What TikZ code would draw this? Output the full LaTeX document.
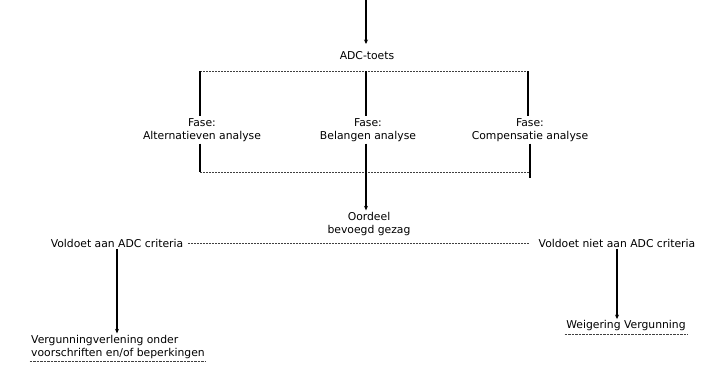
\documentclass[tikz,border=0pt]{standalone}
\usepackage{fontspec}
\setmainfont{DejaVu Sans}
\usetikzlibrary{arrows.meta}
\begin{document}
\begin{tikzpicture}[x=1pt,y=-1pt,
  lbl/.style={font=\fontsize{10.8}{13.5}\selectfont, inner sep=1.5pt, align=center, text=black},
  solidline/.style={draw=black, line width=1.2pt},
  arr/.style={draw=black, line width=1.2pt, -{Stealth[length=4.5pt,width=4pt]}},
  dotline/.style={draw=black!75, line width=0.7pt, dash pattern=on 1.6pt off 1.4pt},
  uline/.style={draw=black!75, line width=0.8pt, dash pattern=on 2.5pt off 1pt}]
\useasboundingbox (0,0) rectangle (707,370);
% nodes
\node[lbl] (adc) at (367,56) {ADC-toets};
\node[lbl] (f1) at (202,130) {Fase:\\Alternatieven analyse};
\node[lbl] (f2) at (368,130) {Fase:\\Belangen analyse};
\node[lbl] (f3) at (530,130) {Fase:\\Compensatie analyse};
\node[lbl] (oord) at (369,224) {Oordeel\\bevoegd gezag};
\node[lbl] (links) at (117,243) {Voldoet aan ADC criteria};
\node[lbl] (rechts) at (617,243) {Voldoet niet aan ADC criteria};
\node[lbl, align=left] (verg) at (118,347) {Vergunningverlening onder\\voorschriften en/of beperkingen};
\node[lbl] (weig) at (626,326) {Weigering Vergunning};
% coordinates
\coordinate (top) at (366,0);
\coordinate (b1l) at (200,71);
\coordinate (b1m) at (366,71);
\coordinate (b1r) at (528,71);
\coordinate (b2l) at (200,172);
\coordinate (b2m) at (366,172);
\coordinate (b2r) at (530,172);
% connectors
\draw[arr] (top) -- (366,44);
\draw[dotline] (b1l) -- (b1r);
\draw[solidline] (b1l) -- (b1l |- f1.north);
\draw[solidline] (b1m) -- (b1m |- f2.north);
\draw[solidline] (b1r) -- (b1r |- f3.north);
\draw[solidline] (b2l |- f1.south) -- (b2l);
\draw[solidline] (b2r |- f3.south) -- ([yshift=-6pt]b2r);
\draw[dotline] (b2l) -- (b2r);
\draw[arr] (b2m |- f2.south) -- (b2m |- oord.north);
\draw[dotline] ([xshift=3pt]links.east) -- ([xshift=-8pt]rechts.west);
\draw[arr] (links.south) -- (links.south |- verg.north);
\draw[arr] (rechts.south) -- (rechts.south |- weig.north);
\draw[uline] ([yshift=-1pt]verg.south west) -- ([yshift=-1pt]verg.south east);
\draw[uline] ([yshift=-1pt]weig.south west) -- ([yshift=-1pt]weig.south east);
\end{tikzpicture}
\end{document}
